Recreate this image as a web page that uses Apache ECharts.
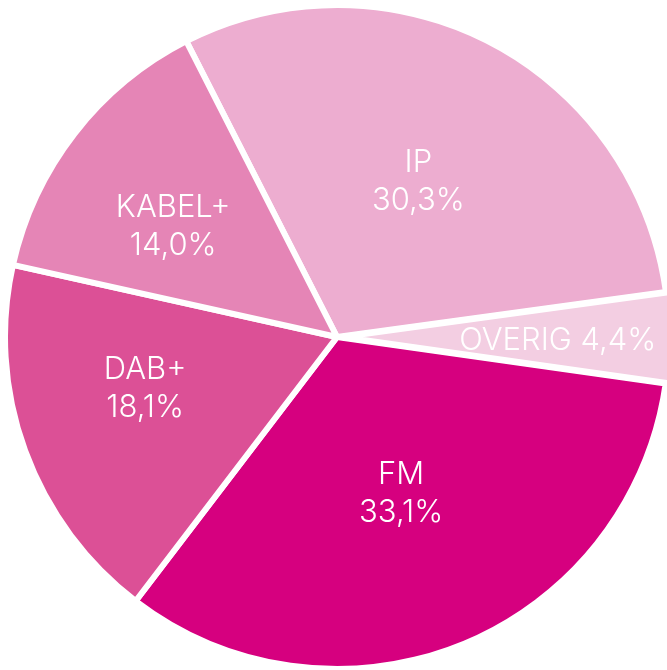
<!DOCTYPE html>
<html><head><meta charset="utf-8">
<script src="https://cdn.jsdelivr.net/npm/echarts@6/dist/echarts.min.js"></script>
<style>html,body{margin:0;padding:0;background:#fff}#c{width:667px;height:670px}</style>
</head><body><div id="c"></div>
<script>
const categories = ['IP', 'OVERIG', 'FM', 'DAB+', 'KABEL+'];
const values = [30.3, 4.4, 33.1, 18.1, 14.0];
const labelLines = ['IP\n30,3%', 'OVERIG 4,4%', 'FM\n33,1%', 'DAB+\n18,1%', 'KABEL+\n14,0%'];

const colors = ['#edadd0', '#f3cee2', '#d6007f', '#dc5096', '#e585b6'];
// label placement styling per slice: distance from centre (fraction of radius) and nudge
const labelFrac = [0.52, 0.665, 0.5, 0.6, 0.6];
const labelShift = [[0, 0], [-3, 3], [0, 0], [-2, -18], [-4, 14]];
const R = 332;
const center = [337, 337];
const startAngle = 117;

const chart = echarts.init(document.getElementById('c'), null, {renderer: 'canvas'});
const baseData = categories.map((n, i) => ({name: n, value: values[i], selected: n === 'OVERIG', itemStyle: {color: colors[i]}}));

const series = [{
  type: 'pie', center: center, radius: [0, R], startAngle: startAngle, clockwise: true,
  silent: true, animation: false, avoidLabelOverlap: false, z: 1,
  selectedMode: 'multiple', selectedOffset: 5,
  itemStyle: {borderColor: '#fff', borderWidth: 6},
  label: {show: false}, labelLine: {show: false},
  data: baseData
}];
const fracs = [...new Set(labelFrac)];
fracs.forEach(f => {
  series.push({
    type: 'pie', center: center, radius: [0, 2 * f * R], startAngle: startAngle, clockwise: true,
    silent: true, animation: false, avoidLabelOverlap: false, z: 10,
    itemStyle: {color: 'transparent', borderWidth: 0},
    labelLine: {show: false},
    label: {show: true, position: 'inside', color: '#fff', fontFamily: 'Inter', fontWeight: 300,
            fontSize: 31, lineHeight: 38, align: 'center',
            formatter: p => labelLines[p.dataIndex]},
    data: categories.map((n, i) => ({name: n, value: values[i],
      label: {show: labelFrac[i] === f, offset: labelShift[i]}}))
  });
});
chart.setOption({animation: false, series: series});
</script></body></html>
